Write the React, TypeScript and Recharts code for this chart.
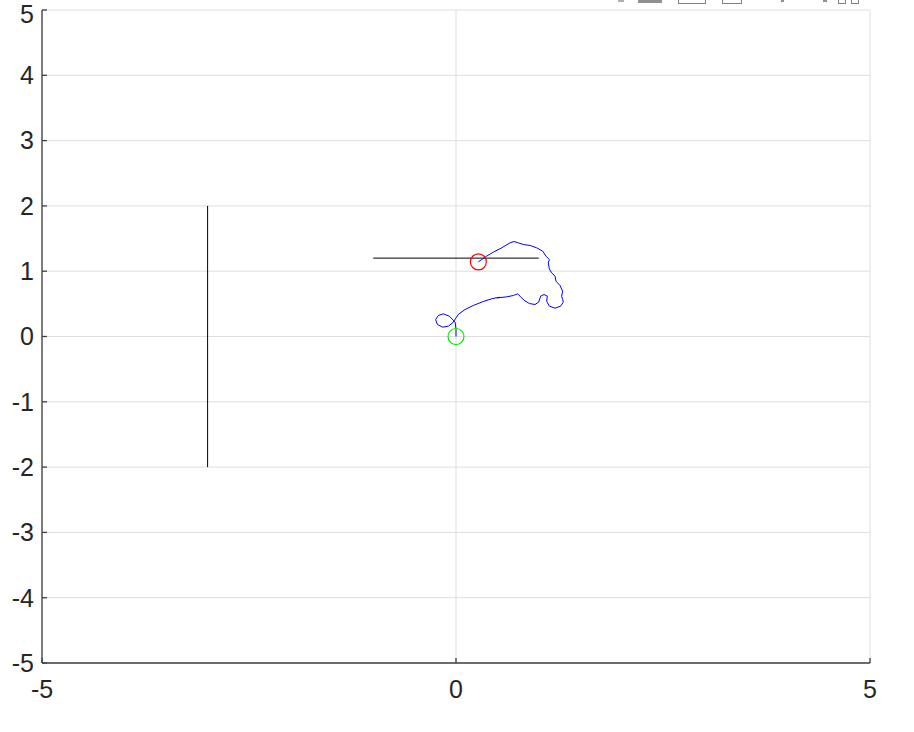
import React from 'react';
import { ComposedChart, Line, Scatter, XAxis, YAxis, CartesianGrid } from 'recharts';

const xTicks = [-5, 0, 5];
const yTicks = [-5, -4, -3, -2, -1, 0, 1, 2, 3, 4, 5];

const verticalBar = [
  { x: -3, y: -2 },
  { x: -3, y: 2 },
];

const horizontalBar = [
  { x: -1, y: 1.2 },
  { x: 1, y: 1.2 },
];

const pathX = [
  0, 0, -0.008, -0.032, -0.081, -0.153, -0.213, -0.246, -0.225, -0.161, -0.093, -0.04, -0.008,
  0.028, 0.109, 0.209, 0.33, 0.431, 0.483, 0.53, 0.499, 0.612, 0.692, 0.745, 0.773, 0.821, 0.886,
  0.954, 0.998, 1.023, 1.063, 1.103, 1.095, 1.127, 1.196, 1.264, 1.296, 1.288, 1.276, 1.288, 1.256,
  1.208, 1.196, 1.155, 1.127, 1.115, 1.127, 1.087, 1.047, 0.974, 0.894, 0.813, 0.753, 0.7, 0.652,
  0.552, 0.451, 0.37, 0.31, 0.27,
];
const pathY = [
  0, 0.107, 0.209, 0.25, 0.311, 0.347, 0.322, 0.26, 0.184, 0.143, 0.158, 0.209, 0.271,
  0.337, 0.413, 0.475, 0.536, 0.577, 0.592, 0.6, 0.592, 0.607, 0.628, 0.653, 0.618, 0.556, 0.505,
  0.49, 0.526, 0.618, 0.643, 0.618, 0.541, 0.465, 0.434, 0.465, 0.526, 0.567, 0.618, 0.694, 0.781,
  0.847, 0.924, 0.975, 1.036, 1.128, 1.179, 1.23, 1.307, 1.358, 1.394, 1.409, 1.434, 1.455, 1.434,
  1.358, 1.292, 1.23, 1.179, 1.143,
];
const blueTrajectory = pathX.map((x, i) => ({ x, y: pathY[i] }));

const startPoint = [{ x: 0, y: 0 }];
const endPoint = [{ x: 0.27, y: 1.143 }];

const font = '"Liberation Sans", Arial, Helvetica, sans-serif';

const ring = (color: string) => (props: any) => (
  <circle cx={props.cx} cy={props.cy} r={8} fill="none" stroke={color} strokeWidth={1.2} />
);

// faint, cut-off figure toolbar at the top right
const toolbarBits = [
  { left: 618, width: 6, height: 2, color: '#b0b0b0', border: false },
  { left: 638, width: 24, height: 3, color: '#909090', border: false },
  { left: 678, width: 28, height: 4, color: '#808080', border: true },
  { left: 722, width: 20, height: 4, color: '#808080', border: true },
  { left: 781, width: 3, height: 2, color: '#909090', border: false },
  { left: 823, width: 4, height: 2, color: '#909090', border: false },
  { left: 838, width: 8, height: 4, color: '#808080', border: true },
  { left: 851, width: 8, height: 4, color: '#808080', border: true },
];

export default function App() {
  return (
    <div style={{ position: 'absolute', left: 0, top: 0, width: 914, height: 732, background: '#fff' }}>
      <ComposedChart
        width={914}
        height={732}
        margin={{ top: 10, right: 44, bottom: 0, left: 0 }}
      >
        <CartesianGrid stroke="#dedede" strokeWidth={1} />
        <XAxis
          type="number"
          dataKey="x"
          domain={[-5, 5]}
          ticks={xTicks}
          allowDataOverflow
          height={69}
          tickSize={-5}
          tickMargin={22}
          axisLine={{ stroke: '#404040', strokeWidth: 1.3 }}
          tickLine={{ stroke: '#404040', strokeWidth: 1.3 }}
          tick={{ fill: '#262626', fontSize: 25, fontFamily: font }}
        />
        <YAxis
          type="number"
          dataKey="y"
          domain={[-5, 5]}
          ticks={yTicks}
          allowDataOverflow
          width={42}
          tickSize={-5}
          tickMargin={13}
          axisLine={{ stroke: '#404040', strokeWidth: 1.3 }}
          tickLine={{ stroke: '#404040', strokeWidth: 1.3 }}
          tick={{ fill: '#262626', fontSize: 25, fontFamily: font }}
        />
        <Line data={verticalBar} dataKey="y" type="linear" stroke="#000" strokeWidth={1} dot={false} isAnimationActive={false} />
        <Line data={horizontalBar} dataKey="y" type="linear" stroke="#000" strokeWidth={1} dot={false} isAnimationActive={false} />
        <Line data={blueTrajectory} dataKey="y" type="linear" stroke="#0000ff" strokeWidth={1} dot={false} isAnimationActive={false} />
        <Scatter data={startPoint} dataKey="y" shape={ring('#00ee00')} isAnimationActive={false} />
        <Scatter data={endPoint} dataKey="y" shape={ring('#ff0000')} isAnimationActive={false} />
      </ComposedChart>
      {toolbarBits.map((b, i) => (
        <div
          key={i}
          style={{
            position: 'absolute',
            top: 0,
            left: b.left,
            width: b.width,
            height: b.height,
            boxSizing: 'border-box',
            background: b.border ? 'transparent' : b.color,
            borderLeft: b.border ? `1px solid ${b.color}` : 'none',
            borderRight: b.border ? `1px solid ${b.color}` : 'none',
            borderBottom: b.border ? `1px solid ${b.color}` : 'none',
          }}
        />
      ))}
    </div>
  );
}
